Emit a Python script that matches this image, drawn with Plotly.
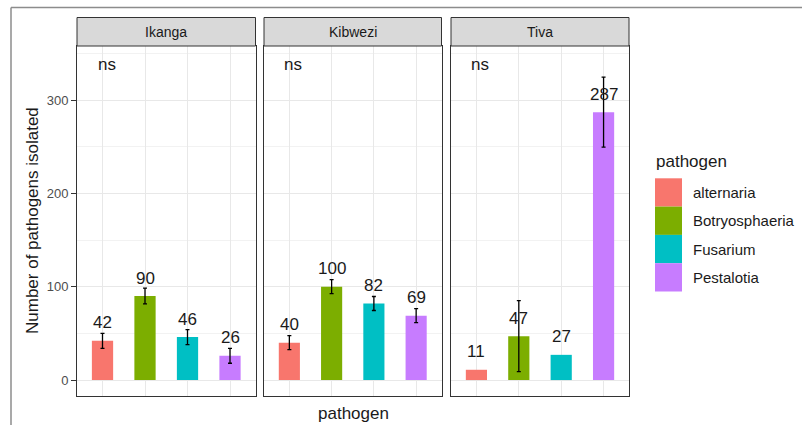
import plotly.graph_objects as go

W, H = 802, 425

sites = ["Ikanga", "Kibwezi", "Tiva"]
pathogens = ["alternaria", "Botryosphaeria", "Fusarium", "Pestalotia"]
colors = ["#F8766D", "#7CAE00", "#00BFC4", "#C77CFF"]

counts = {
    "Ikanga": [42, 90, 46, 26],
    "Kibwezi": [40, 100, 82, 69],
    "Tiva": [11, 47, 27, 287],
}
errors = {
    "Ikanga": [8, 8.5, 8, 8],
    "Kibwezi": [7.5, 7.5, 7.5, 7.5],
    "Tiva": [None, 38, None, 37.5],
}
sig_label = "ns"
sig_y = 338

y_title = "Number of pathogens isolated"
x_title = "pathogen"
legend_title = "pathogen"
y_ticks = [0, 100, 200, 300]

FONT = "Liberation Sans, Arial, sans-serif"

def px(x):
    return x / W

def py(y):
    return 1 - y / H

# panel pixel extents
panels_x = [(77, 255.5), (264, 441.5), (451, 629)]
top_px, bot_px = 46, 396
strip_top = 17.5

fig = go.Figure()
layout = dict(
    width=W, height=H,
    margin=dict(l=0, r=0, t=0, b=0),
    plot_bgcolor="white", paper_bgcolor="white",
    showlegend=False,
    bargap=0.5,
    font=dict(family=FONT),
)
annotations = []
shapes = []

for i, site in enumerate(sites):
    xa = "x" if i == 0 else f"x{i+1}"
    ya = "y" if i == 0 else f"y{i+1}"
    for p, v, e, c in zip(pathogens, counts[site], errors[site], colors):
        err = dict(type="data", array=[e], visible=True,
                   color="black", thickness=1.3, width=2) if e is not None else dict(visible=False)
        fig.add_trace(go.Bar(
            x=[p], y=[v], xaxis=xa, yaxis=ya, name=p,
            marker=dict(color=c, line=dict(width=0)),
            width=0.5, error_y=err, hoverinfo="x+y",
        ))
        annotations.append(dict(
            x=p, y=v, xref=xa, yref=ya, text=str(v), showarrow=False,
            yanchor="middle", xanchor="center", yshift=18,
            font=dict(size=17, color="#1a1a1a", family=FONT)))
    # significance label
    annotations.append(dict(
        x=pathogens[0], y=sig_y, xref=xa, yref=ya, text=sig_label, showarrow=False,
        yanchor="middle", xanchor="center", xshift=4,
        font=dict(size=17, color="#1a1a1a", family=FONT)))

    x0, x1 = panels_x[i]
    axkey = "xaxis" if i == 0 else f"xaxis{i+1}"
    aykey = "yaxis" if i == 0 else f"yaxis{i+1}"
    layout[axkey] = dict(
        domain=[px(x0), px(x1)], anchor=ya,
        type="category", categoryorder="array", categoryarray=pathogens,
        range=[-0.6, 3.6], showticklabels=False, ticks="",
        showgrid=True, gridcolor="#E8E8E8", gridwidth=1.2,
        showline=True, linecolor="#333333", linewidth=1, mirror=True,
        zeroline=False, fixedrange=True,
    )
    layout[aykey] = dict(
        domain=[py(bot_px), py(top_px)], anchor=xa,
        range=[-17.1, 357.9],
        tickvals=y_ticks, ticktext=[str(t) for t in y_ticks],
        showticklabels=(i == 0), ticks="outside" if i == 0 else "",
        ticklen=5, tickcolor="#333333", tickwidth=1,
        tickfont=dict(size=13, color="#4D4D4D", family=FONT),
        showgrid=True, gridcolor="#E8E8E8", gridwidth=1.2,
        minor=dict(tickvals=[50, 150, 250, 350], showgrid=True,
                   gridcolor="#F2F2F2", gridwidth=0.8),
        showline=True, linecolor="#333333", linewidth=1, mirror=True,
        zeroline=False, fixedrange=True,
    )
    if i > 0:
        layout[aykey]["matches"] = "y"
    # strip
    shapes.append(dict(type="rect", xref="paper", yref="paper",
                       x0=px(x0), x1=px(x1), y0=py(top_px), y1=py(strip_top),
                       fillcolor="#D9D9D9", line=dict(color="#333333", width=1),
                       layer="above"))
    annotations.append(dict(
        x=px((x0 + x1) / 2), y=py((top_px + strip_top) / 2), xref="paper", yref="paper",
        text=site, showarrow=False, xanchor="center", yanchor="middle",
        font=dict(size=14, color="#1A1A1A", family=FONT)))

# axis titles
annotations.append(dict(
    x=px(32), y=py((top_px + bot_px) / 2), xref="paper", yref="paper",
    text=y_title, textangle=-90, showarrow=False, xanchor="center", yanchor="middle",
    font=dict(size=17, color="#1a1a1a", family=FONT)))
annotations.append(dict(
    x=px((panels_x[0][0] + panels_x[-1][1]) / 2), y=py(413), xref="paper", yref="paper",
    text=x_title, showarrow=False, xanchor="center", yanchor="middle",
    font=dict(size=17, color="#1a1a1a", family=FONT)))

# custom legend
annotations.append(dict(
    x=px(654), y=py(162), xref="paper", yref="paper", text=legend_title,
    showarrow=False, xanchor="left", yanchor="middle",
    font=dict(size=17, color="#1a1a1a", family=FONT)))
key_h = 28.3
for k, (name, c) in enumerate(zip(pathogens, colors)):
    y0 = 178.3 + k * key_h
    shapes.append(dict(type="rect", xref="paper", yref="paper",
                       x0=px(655), x1=px(682), y0=py(y0 + key_h), y1=py(y0),
                       fillcolor=c, line=dict(width=0)))
    annotations.append(dict(
        x=px(691), y=py(y0 + key_h / 2), xref="paper", yref="paper", text=name,
        showarrow=False, xanchor="left", yanchor="middle",
        font=dict(size=15, color="#1a1a1a", family=FONT)))

# outer screenshot frame
shapes.append(dict(type="line", xref="paper", yref="paper",
                   x0=px(11), x1=1, y0=py(7.5), y1=py(7.5),
                   line=dict(color="#8c8c8c", width=1.5)))
shapes.append(dict(type="line", xref="paper", yref="paper",
                   x0=px(11), x1=px(11), y0=py(7.5), y1=0,
                   line=dict(color="#8c8c8c", width=1.5)))

layout["annotations"] = annotations
layout["shapes"] = shapes
fig.update_layout(**layout)
fig.write_html("out.html", config={"displayModeBar": False})

# remove the default page margin so the figure fills the window exactly
with open("out.html", "r", encoding="utf-8") as f:
    html = f.read()
html = html.replace("<head>", "<head><style>html,body{margin:0;padding:0;overflow:hidden;}</style>", 1)
with open("out.html", "w", encoding="utf-8") as f:
    f.write(html)
